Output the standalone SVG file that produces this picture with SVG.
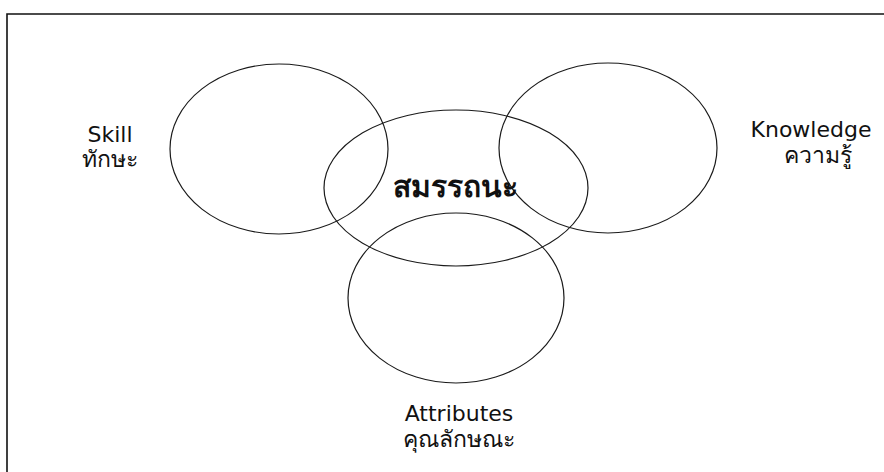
<svg xmlns="http://www.w3.org/2000/svg" width="884" height="472" viewBox="0 0 884 472">
<style>
.bg{fill:#ffffff}
.frame{fill:none;stroke:#111;stroke-width:1.6}
.ring{fill:none;stroke:#1a1a1a;stroke-width:1.2}
.lbl{font-family:"DejaVu Sans","Noto Sans",sans-serif;font-size:22px;fill:#111;text-anchor:middle}
.th{font-size:23px}
.core{font-family:"DejaVu Sans","Noto Sans",sans-serif;font-size:30px;font-weight:bold;fill:#111;text-anchor:middle}
</style>
<rect class="bg" x="0" y="0" width="884" height="472"/>
<path class="frame" d="M7,472 V14 H884"/>
<g id="skill">
<ellipse class="ring" cx="279" cy="149" rx="109" ry="85"/>
<text class="lbl" x="110" y="142">Skill</text>
<text class="lbl th" x="110" y="167">ทักษะ</text>
</g>
<g id="knowledge">
<ellipse class="ring" cx="608" cy="148" rx="109" ry="85"/>
<text class="lbl" x="811" y="137">Knowledge</text>
<text class="lbl th" x="818" y="163">ความรู้</text>
</g>
<g id="competency">
<ellipse class="ring" cx="456" cy="188" rx="132" ry="78"/>
<text class="core" x="455" y="197">สมรรถนะ</text>
</g>
<g id="attributes">
<ellipse class="ring" cx="456" cy="298" rx="108" ry="85"/>
<text class="lbl" x="459" y="421">Attributes</text>
<text class="lbl th" x="459" y="447">คุณลักษณะ</text>
</g>
<g id="connectors"></g>
</svg>
